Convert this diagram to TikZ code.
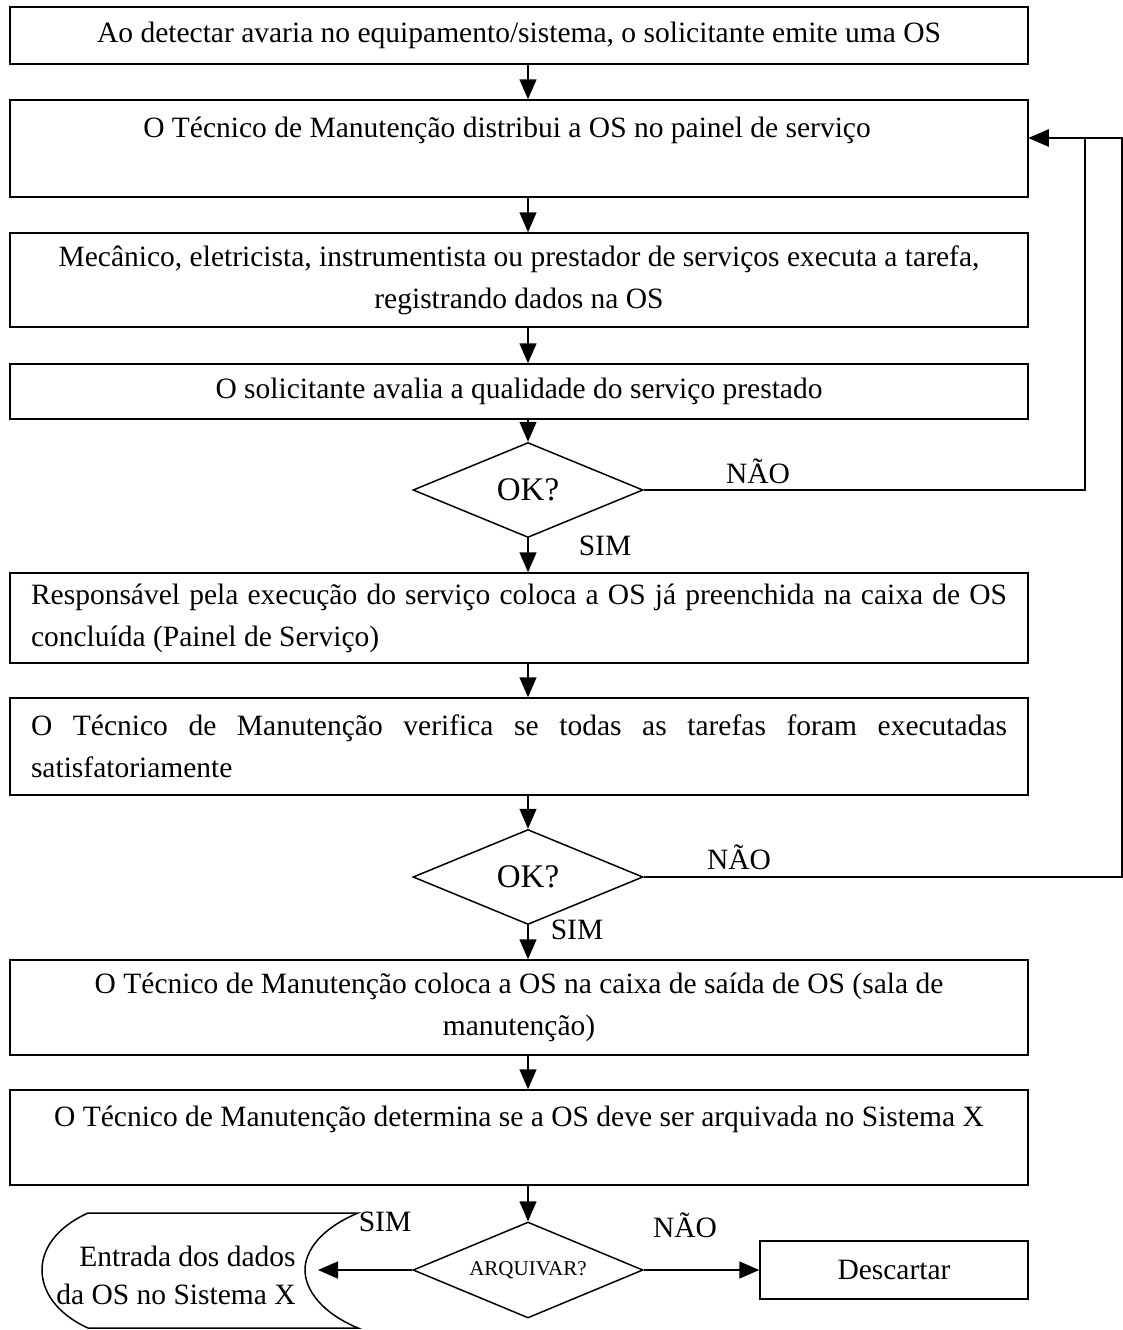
\documentclass[tikz,border=0pt]{standalone}
\usepackage{fontspec}
\setmainfont{Liberation Serif}
\usetikzlibrary{arrows.meta,shapes.geometric}
\begin{document}
\begin{tikzpicture}[x=1pt,y=-1pt,
  txt/.style={font=\fontsize{29.5}{42}\selectfont},
  box/.style={txt, draw, line width=1.5pt, minimum width=1018pt, inner xsep=4pt, inner ysep=0pt, align=center},
  jbox/.style={box, align=justify, text width=976pt, inner xsep=21pt},
  dia/.style={draw, diamond, aspect=2.4, line width=1.5pt, minimum width=230pt, minimum height=95pt, inner sep=0pt, line join=miter, font=\fontsize{33}{40}\selectfont},
  lbl/.style={txt, inner sep=0pt},
  arr/.style={line width=1.5pt, -{Triangle[length=20pt,width=17pt]}},
  ln/.style={line width=1.5pt}]
\useasboundingbox (0,0) rectangle (1123,1330);

\node[box, minimum height=57pt] (B1) at (519,35.5) {Ao detectar avaria no equipamento/sistema, o solicitante emite uma OS};
\node[box, minimum height=97pt] (B2) at (519,148.5) {O Técnico de Manutenção distribui a OS no painel de serviço\hspace*{24pt}\\\mbox{}};
\node[box, minimum height=94pt] (B3) at (519,280) {Mecânico, eletricista, instrumentista ou prestador de serviços executa a tarefa,\\registrando dados na OS};
\node[box, minimum height=55pt] (B4) at (519,391.5) {O solicitante avalia a qualidade do serviço prestado};
\node[dia] (D1) at (528,490) {OK?};
\node[jbox, minimum height=90pt] (B5) at (519,618) {Responsável pela execução do serviço coloca a OS já preenchida na caixa de OS\linebreak concluída (Painel de Serviço)};
\node[jbox, minimum height=97pt] (B6) at (519,746.5) {O Técnico de Manutenção verifica se todas as tarefas foram executadas\linebreak satisfatoriamente};
\node[dia] (D2) at (528,877) {OK?};
\node[box, minimum height=95pt] (B7) at (519,1007.5) {O Técnico de Manutenção coloca a OS na caixa de saída de OS (sala de\\manutenção)};
\node[box, minimum height=95pt] (B8) at (519,1137.5) {O Técnico de Manutenção determina se a OS deve ser arquivada no Sistema X\\\mbox{}};
\node[dia, font=\fontsize{21}{24}\selectfont, minimum height=96pt] (D3) at (528,1270) {ARQUIVAR?};
\node[box, minimum width=268pt, minimum height=58pt] (DC) at (894,1270) {Descartar};

% stored data shape
\draw[ln] (358,1213) -- (88,1213)
  .. controls (55,1228) and (42,1250) .. (42,1270)
  .. controls (42,1290) and (55,1313) .. (88,1328)
  -- (358,1328)
  .. controls (322,1313) and (305,1290) .. (305,1270)
  .. controls (305,1250) and (322,1228) .. (358,1213) -- cycle;
\node[txt, align=right, inner sep=0pt, font=\fontsize{29.5}{38}\selectfont] (EN) at (176,1275) {Entrada dos dados\\da OS no Sistema X};
\coordinate (ENin) at (318,1270);

% vertical connectors
\draw[arr] (B1.south -| D1.north) -- (B2.north -| D1.north);
\draw[arr] (B2.south -| D1.north) -- (B3.north -| D1.north);
\draw[arr] (B3.south -| D1.north) -- (B4.north -| D1.north);
\draw[arr] (B4.south -| D1.north) -- (D1.north);
\draw[arr] (D1.south) -- (B5.north -| D1.south);
\draw[arr] (B5.south -| D1.north) -- (B6.north -| D1.north);
\draw[arr] (B6.south -| D2.north) -- (D2.north);
\draw[arr] (D2.south) -- (B7.north -| D2.south);
\draw[arr] (B7.south -| D2.north) -- (B8.north -| D2.north);
\draw[arr] (B8.south -| D3.north) -- (D3.north);

% loops
\coordinate (L1) at (1085,138);
\coordinate (L2) at (1122,138);
\draw[arr] (D1.east) -| (L1) -- (B2.east |- L1);
\draw[arr] (D2.east) -| (L2) -- (B2.east |- L2);

% bottom branches
\draw[arr] (D3.west) -- (ENin);
\draw[arr] (D3.east) -- (DC.west);

% labels
\node[lbl] (N1) at (758,471) {NÃO};
\node[lbl] (S1) at (605,546) {SIM};
\node[lbl] (N2) at (739,857) {NÃO};
\node[lbl] (S2) at (577,930) {SIM};
\node[lbl] (S3) at (385,1222) {SIM};
\node[lbl] (N3) at (685,1225) {NÃO};
\end{tikzpicture}
\end{document}
